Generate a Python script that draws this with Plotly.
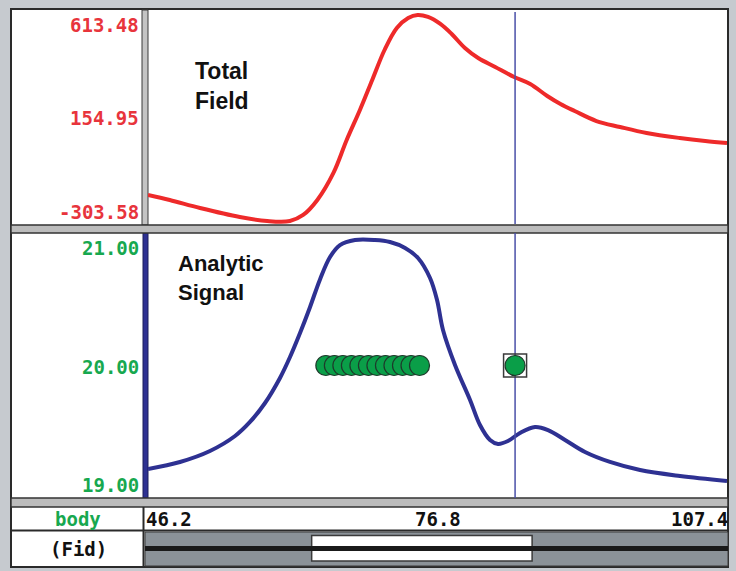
import plotly.graph_objects as go

# ---------------- data ----------------
fid_total = [46.2, 48.5, 51.7, 55.9, 58.8, 61.2, 62.6, 64.1, 65.8, 67.2, 68.6, 69.9, 71.2,
             72.5, 73.7, 74.7, 75.8, 77.1, 78.3, 79.7, 81.1, 82.9, 84.9, 86.6, 88.4, 89.8,
             91.3, 93.6, 96.1, 98.9, 102.4, 105.1, 107.4]
total_field = [-178.1, -199.8, -234.4, -273.3, -290.6, -290.6, -264.6, -199.8, -82.9, 59.8,
               189.6, 319.3, 449.1, 544.3, 587.5, 600.5, 591.9, 561.6, 518.3, 457.8, 414.5,
               375.6, 332.3, 302.0, 250.1, 215.5, 185.2, 141.9, 116.0, 90.0, 68.4, 55.4, 46.8]

fid_signal = [46.2, 49.58, 52.75, 55.4, 56.98, 58.57, 60.15, 61.21, 62.27, 63.32, 64.38, 65.44,
              66.49, 68.08, 70.19, 71.78, 73.37, 74.74, 76.01, 76.75, 77.38, 78.65, 80.24, 81.29,
              82.35, 83.2, 84.25, 85.52, 87.11, 88.48, 90.28, 92.39, 95.03, 98.21, 102.43, 107.4]
analytic_signal = [19.219, 19.272, 19.355, 19.468, 19.574, 19.717, 19.906, 20.064, 20.245, 20.440,
                   20.650, 20.819, 20.909, 20.947, 20.947, 20.932, 20.887, 20.811, 20.660, 20.494,
                   20.268, 20.004, 19.740, 19.551, 19.438, 19.408, 19.430, 19.491, 19.536, 19.513,
                   19.438, 19.347, 19.272, 19.211, 19.166, 19.128]

pick_fids = [65.0, 65.9, 66.8, 67.7, 68.6, 69.5, 70.4, 71.3, 72.2, 73.1, 74.0, 74.9]
pick_values = [20.0] * 12
selected_fid = [85.0]
selected_value = [20.0]
cursor_fid = 85.0

tf_ticks = [-303.58, 154.95, 613.48]
tf_labels = ["-303.58", "154.95", "613.48"]
as_ticks = [19.0, 20.0, 21.0]
as_labels = ["19.00", "20.00", "21.00"]
fid_ticks = [46.2, 76.8, 107.4]
fid_labels = ["46.2", "76.8", "107.4"]
window_range = [63.5, 86.8]

# ---------------- layout helpers ----------------
W, H = 736, 571
def px(x):
    return x / W
def py(y):
    return 1 - y / H

MONO = "DejaVu Sans Mono"
RED_TXT = "#e8343c"
GREEN_TXT = "#17a84f"

fig = go.Figure()

# top panel
fig.add_trace(go.Scatter(x=fid_total, y=total_field, mode="lines",
                         line=dict(color="#ee2a2a", width=4, shape="spline", smoothing=1.0),
                         xaxis="x", yaxis="y", hoverinfo="skip"))
fig.add_trace(go.Scatter(x=[cursor_fid, cursor_fid], y=[tf_ticks[0], tf_ticks[-1]], mode="lines",
                         line=dict(color="#4a50a8", width=1.5), xaxis="x", yaxis="y", hoverinfo="skip"))
# bottom panel
fig.add_trace(go.Scatter(x=fid_signal, y=analytic_signal, mode="lines",
                         line=dict(color="#2e3192", width=4, shape="spline", smoothing=1.0),
                         xaxis="x2", yaxis="y2", hoverinfo="skip"))
fig.add_trace(go.Scatter(x=[cursor_fid, cursor_fid], y=[as_ticks[0], as_ticks[-1]], mode="lines",
                         line=dict(color="#4a50a8", width=1.5), xaxis="x2", yaxis="y2", hoverinfo="skip"))
fig.add_trace(go.Scatter(x=pick_fids, y=pick_values, mode="markers",
                         marker=dict(size=20, color="#0a9e48", line=dict(color="#1e3a2b", width=1.2)),
                         xaxis="x2", yaxis="y2", hoverinfo="skip"))
fig.add_trace(go.Scatter(x=selected_fid, y=selected_value, mode="markers",
                         marker=dict(size=23, symbol="square", color="rgba(255,255,255,0)",
                                     line=dict(color="#3a3a3a", width=1.5)),
                         xaxis="x2", yaxis="y2", hoverinfo="skip"))
fig.add_trace(go.Scatter(x=selected_fid, y=selected_value, mode="markers",
                         marker=dict(size=20, color="#0a9e48", line=dict(color="#1e3a2b", width=1.2)),
                         xaxis="x2", yaxis="y2", hoverinfo="skip"))

shapes = []
def prect(x0, y0, x1, y1, fill, line="rgba(0,0,0,0)", lw=0, layer="below"):
    shapes.append(dict(type="rect", xref="paper", yref="paper", x0=px(x0), x1=px(x1),
                       y0=py(y1), y1=py(y0), fillcolor=fill,
                       line=dict(color=line, width=lw), layer=layer))
def pline(x0, y0, x1, y1, color, lw, layer="below"):
    shapes.append(dict(type="line", xref="paper", yref="paper", x0=px(x0), x1=px(x1),
                       y0=py(y0), y1=py(y1), line=dict(color=color, width=lw), layer=layer))

# outer white frame
prect(11, 9, 728, 567, "#ffffff", "#2a2a2a", 2)
# top panel label separator column
prect(142, 10, 148, 225, "#c4c4c4", "#3a3a3a", 1)
# bottom panel blue column
prect(143, 233, 148, 498, "#2e3192", "#1c1f5a", 1)
# horizontal separators
prect(11, 225, 728, 233, "#bcbcbc", "#333333", 1.5)
prect(11, 498, 728, 507, "#bcbcbc", "#333333", 1.5)
# body row bottom line
pline(11, 530.5, 728, 530.5, "#2a2a2a", 2)
# label column divider for lower rows
pline(143.5, 507, 143.5, 567, "#2a2a2a", 2)
# fid overview bar
prect(145, 532, 728, 566, "#8b9298", "#3a3a3a", 1)
# view window
shapes.append(dict(type="rect", xref="x3", yref="y3", x0=window_range[0], x1=window_range[1],
                   y0=0.15, y1=0.9, fillcolor="#ffffff", line=dict(color="#3a3a3a", width=1.5),
                   layer="below"))
pline(145, 548.5, 728, 548.5, "#1a1a1a", 5, layer="above")

annotations = []
for v, t in zip(tf_ticks, tf_labels):
    shift = {0: 11.5, 1: -0.5, 2: -13}[tf_ticks.index(v)]
    annotations.append(dict(xref="paper", yref="y", x=px(141), y=v, xanchor="right", yanchor="middle",
                            yshift=shift, text=t, showarrow=False,
                            font=dict(family=MONO, size=19, color=RED_TXT, weight="bold")))
for v, t in zip(as_ticks, as_labels):
    shift = {0: 13, 1: -1.5, 2: -15.5}[as_ticks.index(v)]
    annotations.append(dict(xref="paper", yref="y2", x=px(141), y=v, xanchor="right", yanchor="middle",
                            yshift=shift, text=t, showarrow=False,
                            font=dict(family=MONO, size=19, color=GREEN_TXT, weight="bold")))
anchors = ["left", "center", "right"]
xshifts = [-4, 0, 3]
for v, t, a, s in zip(fid_ticks, fid_labels, anchors, xshifts):
    annotations.append(dict(xref="x", yref="paper", x=v, y=py(519), xanchor=a, yanchor="middle",
                            xshift=s, text=t, showarrow=False,
                            font=dict(family=MONO, size=19, color="#111111", weight="bold")))
annotations.append(dict(xref="paper", yref="paper", x=px(78), y=py(519), xanchor="center",
                        yanchor="middle", text="body", showarrow=False,
                        font=dict(family=MONO, size=19, color=GREEN_TXT, weight="bold")))
annotations.append(dict(xref="paper", yref="paper", x=px(78), y=py(549), xanchor="center",
                        yanchor="middle", text="(Fid)", showarrow=False,
                        font=dict(family=MONO, size=19, color="#111111", weight="bold")))
annotations.append(dict(xref="paper", yref="paper", x=px(193), y=py(86), xanchor="left",
                        yanchor="middle", align="left", text="Total<br>Field", showarrow=False,
                        font=dict(family="Liberation Sans", size=23, color="#111111", weight="bold")))
annotations.append(dict(xref="paper", yref="paper", x=px(176), y=py(278), xanchor="left",
                        yanchor="middle", align="left", text="Analytic<br>Signal", showarrow=False,
                        font=dict(family="Liberation Sans", size=22, color="#111111", weight="bold")))

xr = [fid_ticks[0], fid_ticks[-1]]
ax_common = dict(visible=False, showgrid=False, zeroline=False, fixedrange=True)
fig.update_layout(
    width=W, height=H, margin=dict(l=0, r=0, t=0, b=0),
    paper_bgcolor="#c6cacf", plot_bgcolor="rgba(0,0,0,0)",
    showlegend=False,
    xaxis=dict(domain=[px(148), px(727)], range=xr, anchor="y", **ax_common),
    yaxis=dict(domain=[py(224), py(12)], range=[tf_ticks[0], tf_ticks[-1]], anchor="x", **ax_common),
    xaxis2=dict(domain=[px(148), px(727)], range=xr, anchor="y2", **ax_common),
    yaxis2=dict(domain=[py(498), py(233)], range=[as_ticks[0], as_ticks[-1]], anchor="x2", **ax_common),
    xaxis3=dict(domain=[px(148), px(727)], range=xr, anchor="y3", **ax_common),
    yaxis3=dict(domain=[py(566), py(532)], range=[0, 1], anchor="x3", **ax_common),
    shapes=shapes, annotations=annotations,
)

fig.write_html("out.html")
